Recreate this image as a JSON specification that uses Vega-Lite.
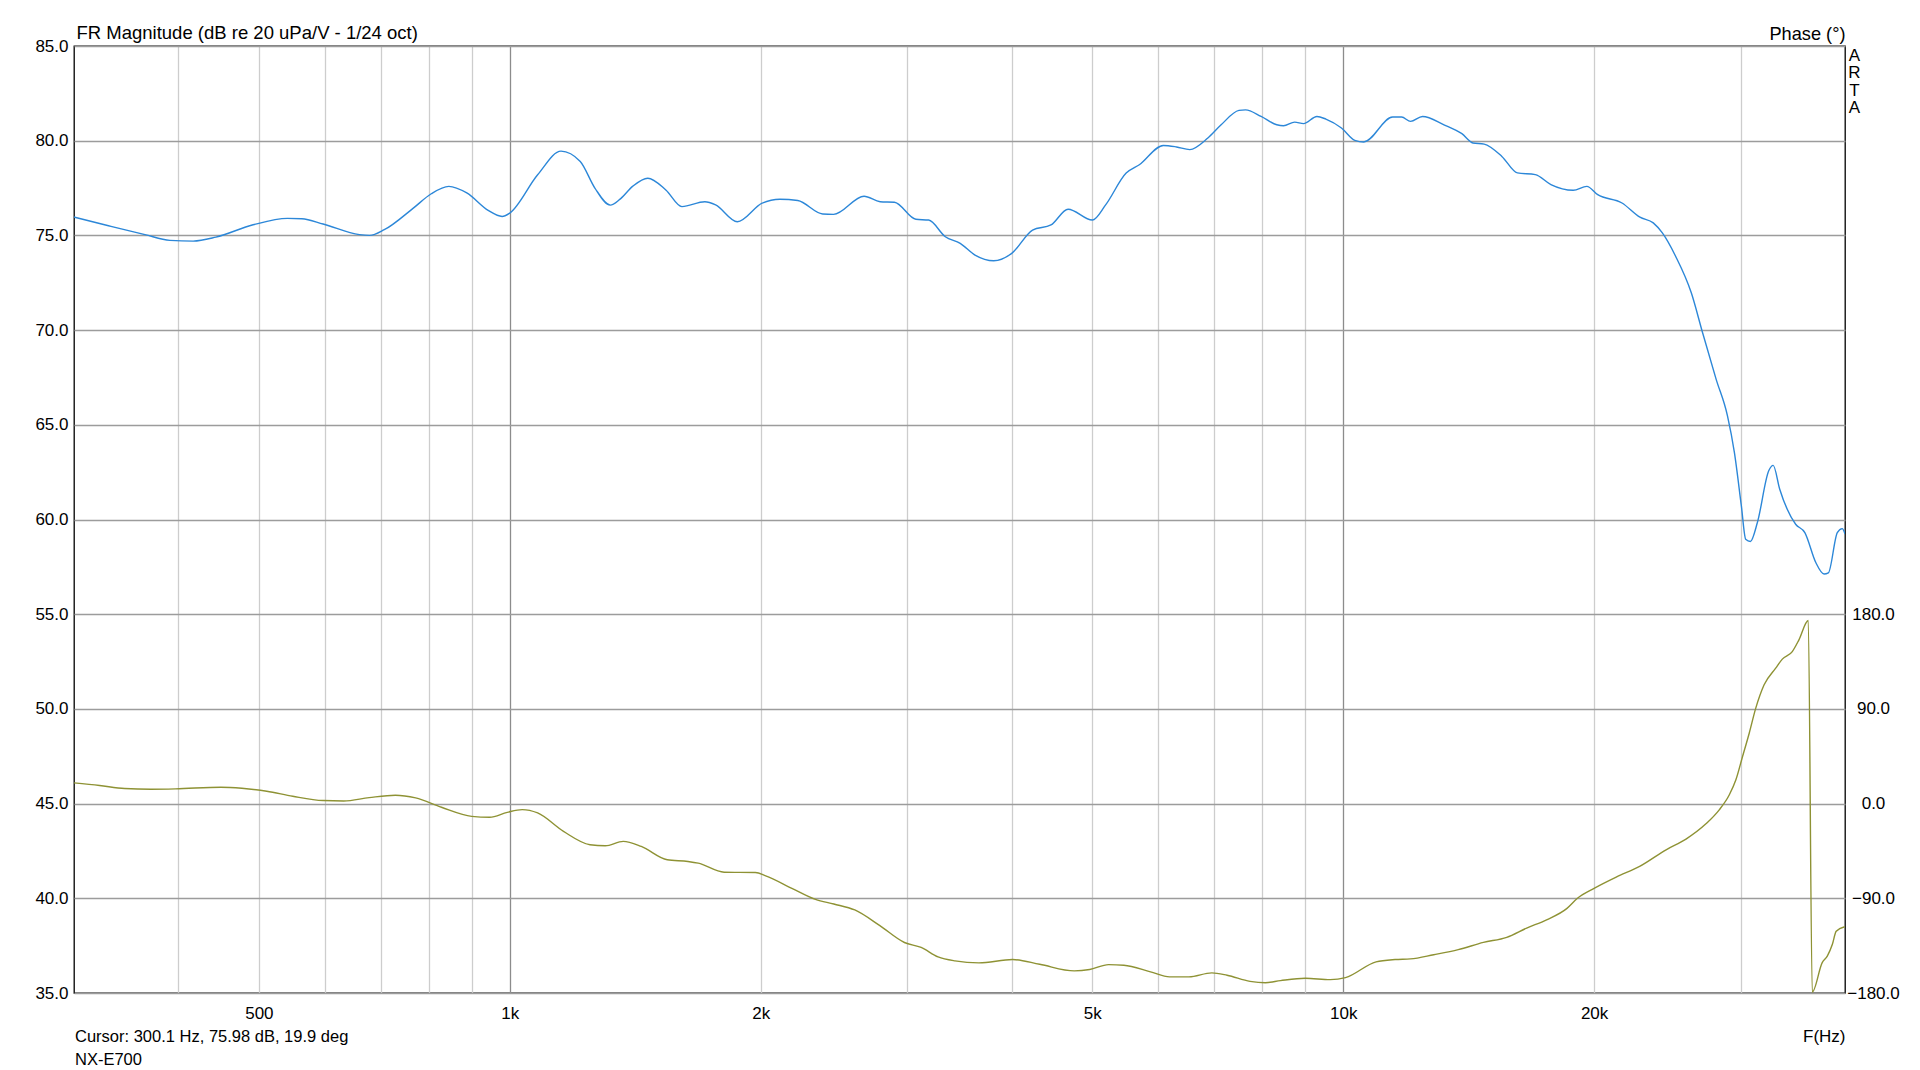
{
  "$schema": "https://vega.github.io/schema/vega-lite/v6.json",
  "width": 1771,
  "height": 947,
  "autosize": {"type": "none"},
  "padding": {"left": 74, "top": 46, "right": 75, "bottom": 77},
  "background": "white",
  "config": {
    "view": {"stroke": "#000000", "strokeWidth": 1.3},
    "font": "Liberation Sans"
  },
  "title": {
    "text": "Cursor: 300.1 Hz, 75.98 dB, 19.9 deg",
    "subtitle": "NX-E700",
    "orient": "bottom",
    "anchor": "start",
    "frame": "group",
    "offset": -15,
    "dx": 1,
    "font": "Liberation Sans",
    "fontSize": 16.5,
    "fontWeight": "normal",
    "color": "#000000",
    "subtitleFont": "Liberation Sans",
    "subtitleFontSize": 16.5,
    "subtitleColor": "#000000",
    "subtitlePadding": 6
  },
  "datasets": {
    "mag": [
      {"f": 300, "db": 75.97}, {"f": 330, "db": 75.51}, {"f": 365, "db": 75.04}, {"f": 391, "db": 74.74},
      {"f": 417, "db": 74.70}, {"f": 444, "db": 74.91}, {"f": 492, "db": 75.56}, {"f": 541, "db": 75.90},
      {"f": 563, "db": 75.88}, {"f": 597, "db": 75.60}, {"f": 660, "db": 75.04}, {"f": 679, "db": 75.00},
      {"f": 707, "db": 75.30}, {"f": 766, "db": 76.44}, {"f": 805, "db": 77.20}, {"f": 845, "db": 77.59},
      {"f": 888, "db": 77.24}, {"f": 942, "db": 76.32}, {"f": 979, "db": 76.00}, {"f": 1000, "db": 76.18},
      {"f": 1080, "db": 78.2}, {"f": 1152, "db": 79.45}, {"f": 1215, "db": 78.9}, {"f": 1265, "db": 77.5},
      {"f": 1320, "db": 76.6}, {"f": 1355, "db": 76.9}, {"f": 1405, "db": 77.6}, {"f": 1464, "db": 78.02},
      {"f": 1539, "db": 77.40}, {"f": 1609, "db": 76.52}, {"f": 1714, "db": 76.78}, {"f": 1766, "db": 76.61},
      {"f": 1875, "db": 75.72}, {"f": 2008, "db": 76.70}, {"f": 2109, "db": 76.91}, {"f": 2216, "db": 76.84},
      {"f": 2374, "db": 76.13}, {"f": 2446, "db": 76.11}, {"f": 2661, "db": 77.07}, {"f": 2782, "db": 76.78},
      {"f": 2894, "db": 76.75}, {"f": 3071, "db": 75.85}, {"f": 3181, "db": 75.81}, {"f": 3331, "db": 74.93},
      {"f": 3471, "db": 74.58}, {"f": 3616, "db": 73.96}, {"f": 3807, "db": 73.66}, {"f": 4002, "db": 74.05},
      {"f": 4239, "db": 75.28}, {"f": 4460, "db": 75.55}, {"f": 4676, "db": 76.38}, {"f": 5000, "db": 75.81},
      {"f": 5187, "db": 76.61}, {"f": 5490, "db": 78.29}, {"f": 5693, "db": 78.73}, {"f": 6083, "db": 79.75},
      {"f": 6310, "db": 79.67}, {"f": 6544, "db": 79.53}, {"f": 6880, "db": 80.14}, {"f": 7137, "db": 80.84},
      {"f": 7497, "db": 81.60}, {"f": 7635, "db": 81.63}, {"f": 7970, "db": 81.28}, {"f": 8322, "db": 80.84},
      {"f": 8480, "db": 80.79}, {"f": 8745, "db": 80.98}, {"f": 8962, "db": 80.90}, {"f": 9300, "db": 81.28},
      {"f": 9532, "db": 81.14}, {"f": 9951, "db": 80.67}, {"f": 10325, "db": 80.02}, {"f": 10583, "db": 79.93},
      {"f": 11463, "db": 81.25}, {"f": 11750, "db": 81.25}, {"f": 12045, "db": 81.02}, {"f": 12450, "db": 81.28},
      {"f": 13210, "db": 80.84}, {"f": 13880, "db": 80.37}, {"f": 14310, "db": 79.88}, {"f": 14760, "db": 79.82},
      {"f": 15500, "db": 79.17}, {"f": 16180, "db": 78.30}, {"f": 17000, "db": 78.21}, {"f": 17750, "db": 77.68},
      {"f": 18880, "db": 77.38}, {"f": 19600, "db": 77.59}, {"f": 20200, "db": 77.15}, {"f": 21600, "db": 76.71},
      {"f": 22700, "db": 75.96}, {"f": 23550, "db": 75.66}, {"f": 24150, "db": 75.13}, {"f": 25050, "db": 73.90},
      {"f": 26160, "db": 71.97}, {"f": 26990, "db": 69.86}, {"f": 28020, "db": 67.40}, {"f": 28910, "db": 65.47},
      {"f": 29470, "db": 63.53}, {"f": 30040, "db": 60.72}, {"f": 30400, "db": 58.96}, {"f": 30800, "db": 58.84},
      {"f": 31400, "db": 59.84}, {"f": 32400, "db": 62.57}, {"f": 32800, "db": 62.86}, {"f": 33400, "db": 61.60},
      {"f": 34900, "db": 59.75}, {"f": 35800, "db": 59.31}, {"f": 36900, "db": 57.73}, {"f": 37750, "db": 57.12},
      {"f": 38200, "db": 57.18}, {"f": 39160, "db": 59.31}, {"f": 39700, "db": 59.52}, {"f": 40000, "db": 59.23}
    ],
    "phase": [
      {"f": 300, "deg": 19.7}, {"f": 322, "deg": 17.2}, {"f": 345, "deg": 14.3}, {"f": 371, "deg": 13.7},
      {"f": 397, "deg": 14.0}, {"f": 450, "deg": 15.6}, {"f": 477, "deg": 14.6}, {"f": 511, "deg": 11.8},
      {"f": 549, "deg": 7.0}, {"f": 597, "deg": 2.9}, {"f": 632, "deg": 2.5}, {"f": 678, "deg": 5.7},
      {"f": 729, "deg": 8.0}, {"f": 771, "deg": 5.4}, {"f": 828, "deg": -3.5}, {"f": 900, "deg": -12.1},
      {"f": 946, "deg": -13.0}, {"f": 993, "deg": -8.3}, {"f": 1035, "deg": -5.7}, {"f": 1080, "deg": -8.9},
      {"f": 1160, "deg": -26.4}, {"f": 1248, "deg": -39.1}, {"f": 1302, "deg": -40.1}, {"f": 1368, "deg": -35.9},
      {"f": 1438, "deg": -40.7}, {"f": 1545, "deg": -53.4}, {"f": 1636, "deg": -55.0}, {"f": 1683, "deg": -56.6},
      {"f": 1808, "deg": -65.2}, {"f": 1971, "deg": -65.5}, {"f": 2028, "deg": -68.7}, {"f": 2180, "deg": -80.5},
      {"f": 2327, "deg": -91.0}, {"f": 2448, "deg": -95.4}, {"f": 2594, "deg": -101.1}, {"f": 2780, "deg": -116.0},
      {"f": 2975, "deg": -132.0}, {"f": 3116, "deg": -136.7}, {"f": 3265, "deg": -145.7}, {"f": 3421, "deg": -149.5},
      {"f": 3655, "deg": -151.4}, {"f": 4012, "deg": -148.2}, {"f": 4323, "deg": -152.7}, {"f": 4757, "deg": -159.0},
      {"f": 4964, "deg": -157.7}, {"f": 5229, "deg": -153.0}, {"f": 5455, "deg": -153.6}, {"f": 5872, "deg": -159.9},
      {"f": 6190, "deg": -164.7}, {"f": 6530, "deg": -164.7}, {"f": 6955, "deg": -160.9}, {"f": 7255, "deg": -163.1},
      {"f": 7730, "deg": -168.9}, {"f": 8065, "deg": -170.2}, {"f": 8410, "deg": -168.2}, {"f": 9007, "deg": -166.0},
      {"f": 9647, "deg": -167.3}, {"f": 10064, "deg": -165.4}, {"f": 10950, "deg": -150.4}, {"f": 11540, "deg": -148.2},
      {"f": 12040, "deg": -147.6}, {"f": 12840, "deg": -143.6}, {"f": 13740, "deg": -138.8}, {"f": 14730, "deg": -131.9},
      {"f": 15710, "deg": -127.1}, {"f": 16600, "deg": -118.3}, {"f": 17540, "deg": -110.4}, {"f": 18540, "deg": -99.8},
      {"f": 19100, "deg": -90.0}, {"f": 20000, "deg": -80.5}, {"f": 21260, "deg": -69.8}, {"f": 22680, "deg": -59.7},
      {"f": 24400, "deg": -43.9}, {"f": 25780, "deg": -33.7}, {"f": 27240, "deg": -19.2}, {"f": 28260, "deg": -5.9},
      {"f": 29060, "deg": 8.4}, {"f": 29590, "deg": 22.6}, {"f": 30140, "deg": 44.8}, {"f": 30700, "deg": 66.9},
      {"f": 31260, "deg": 90.7}, {"f": 31990, "deg": 112.9}, {"f": 33030, "deg": 128.7}, {"f": 33640, "deg": 137.3},
      {"f": 34580, "deg": 144.5}, {"f": 35220, "deg": 155.6}, {"f": 36140, "deg": 174.0}, {"f": 36540, "deg": -179.0},
      {"f": 37560, "deg": -151.1}, {"f": 38090, "deg": -145.0}, {"f": 38620, "deg": -134.0}, {"f": 39040, "deg": -121.4},
      {"f": 39960, "deg": -117.0}
    ]
  },
  "layer": [
    {
      "data": {"name": "mag"},
      "mark": {"type": "line", "color": "#2c87d8", "strokeWidth": 1.4, "interpolate": "monotone", "clip": true},
      "encoding": {
        "x": {
          "field": "f", "type": "quantitative",
          "scale": {"type": "log", "domain": [300, 40000], "nice": false},
          "axis": {
            "orient": "bottom",
            "values": [400, 500, 600, 700, 800, 900, 1000, 2000, 3000, 4000, 5000, 6000, 7000, 8000, 9000, 10000, 20000, 30000],
            "labelExpr": "indexof([500,1000,2000,5000,10000,20000], datum.value) >= 0 ? (datum.value >= 1000 ? (datum.value/1000) + 'k' : '' + datum.value) : ''",
            "ticks": false, "domain": false,
            "grid": true,
            "gridColor": {"condition": {"test": "datum.value == 1000 || datum.value == 10000", "value": "#8c8c8c"}, "value": "#cdcdcd"},
            "gridWidth": 1.3,
            "labelFont": "Liberation Sans", "labelFontSize": 17, "labelColor": "#000000",
            "labelPadding": 12, "labelBaseline": "top", "labelOverlap": false, "labelFlush": false,
            "title": "F(Hz)", "titleFont": "Liberation Sans", "titleFontSize": 17, "titleFontWeight": "normal", "titleColor": "#000000",
            "titleAlign": "right", "titleAnchor": null, "titleBaseline": "alphabetic", "titleX": 1771, "titleY": 48
          }
        },
        "y": {
          "field": "db", "type": "quantitative",
          "scale": {"domain": [35, 85], "nice": false, "zero": false},
          "axis": {
            "orient": "left",
            "values": [35, 40, 45, 50, 55, 60, 65, 70, 75, 80, 85],
            "format": ".1f",
            "ticks": false, "domain": false,
            "grid": true, "gridColor": "#9c9c9c", "gridWidth": 1.4,
            "labelFont": "Liberation Sans", "labelFontSize": 17, "labelColor": "#000000",
            "labelPadding": 6, "labelOverlap": false, "labelFlush": false,
            "title": "FR Magnitude (dB re 20 uPa/V - 1/24 oct)",
            "titleFont": "Liberation Sans", "titleFontSize": 18.5, "titleFontWeight": "normal", "titleColor": "#000000",
            "titleAngle": 0, "titleAlign": "left", "titleBaseline": "alphabetic", "titleX": 2, "titleY": -8
          }
        }
      }
    },
    {
      "data": {"name": "phase"},
      "mark": {"type": "line", "color": "#8e9234", "strokeWidth": 1.4, "interpolate": "monotone", "clip": true},
      "encoding": {
        "x": {
          "field": "f", "type": "quantitative",
          "axis": {
            "orient": "top", "labels": false, "ticks": false, "domain": false, "grid": false,
            "title": ["A", "R", "T", "A"],
            "titleFont": "Liberation Sans", "titleFontSize": 17, "titleFontWeight": "normal", "titleColor": "#000000",
            "titleAngle": 0, "titleAlign": "center", "titleBaseline": "middle", "titleLineHeight": 17.5,
            "titleX": 1780, "titleY": 9
          }
        },
        "y": {
          "field": "deg", "type": "quantitative",
          "scale": {"domain": [-180, 720], "nice": false, "zero": false},
          "axis": {
            "orient": "right",
            "values": [-180, -90, 0, 90, 180],
            "format": ".1f",
            "ticks": false, "domain": false, "grid": false,
            "labelFont": "Liberation Sans", "labelFontSize": 17, "labelColor": "#000000",
            "labelAlign": "center", "labelPadding": 28, "labelOverlap": false, "labelFlush": false,
            "title": "Phase (°)",
            "titleFont": "Liberation Sans", "titleFontSize": 18.2, "titleFontWeight": "normal", "titleColor": "#000000",
            "titleAngle": 0, "titleAlign": "right", "titleBaseline": "alphabetic", "titleX": 0, "titleY": -7
          }
        }
      }
    }
  ],
  "resolve": {"scale": {"y": "independent"}, "axis": {"x": "independent"}}
}
